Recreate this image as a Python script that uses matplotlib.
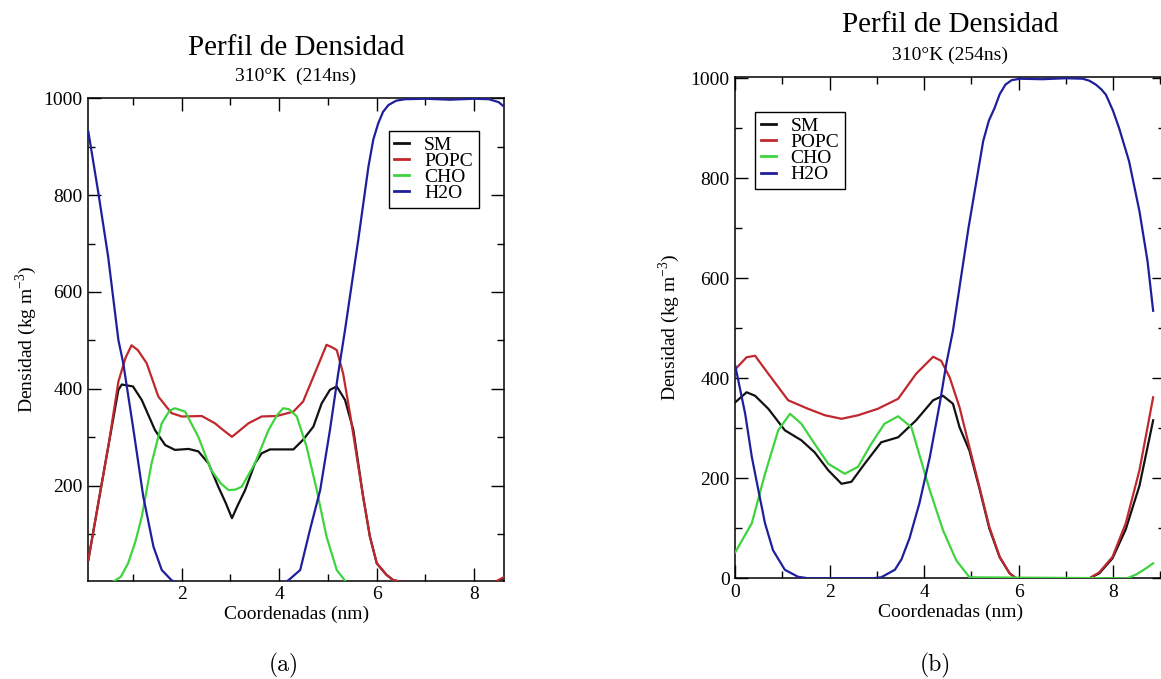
import matplotlib
matplotlib.use("Agg")
import matplotlib.pyplot as plt
from matplotlib.ticker import MultipleLocator

plt.rcParams['font.family'] = ['Liberation Serif', 'DejaVu Serif']
plt.rcParams['mathtext.fontset'] = 'custom'
plt.rcParams['mathtext.rm'] = 'Liberation Serif'

# colores de cada componente
colores = {'SM': '#111111', 'POPC': '#c0282e', 'CHO': '#3fd43f', 'H2O': '#1f1f9c'}

# ---- (a) 310 K, 214 ns ----
sm_a_x = [0.084, 0.3, 0.5, 0.7, 0.77, 1.0, 1.18, 1.45, 1.66, 1.86, 2.14, 2.34, 2.55, 2.75, 2.9, 3.03,
          3.15, 3.30, 3.50, 3.64, 3.81, 4.29, 4.49, 4.70, 4.87, 5.04, 5.18, 5.35, 5.52, 5.72, 5.86,
          6.0, 6.2, 6.34, 6.6, 8.4, 8.62]
sm_a_y = [47, 171, 285, 398, 409, 405, 377, 315, 284, 274, 276, 271, 246, 198, 165, 133,
          160, 191, 246, 267, 275, 275, 295, 322, 370, 398, 405, 377, 315, 178, 95,
          40, 16, 5, 0, 0, 10]

popc_a_x = [0.084, 0.3, 0.5, 0.7, 0.85, 0.97, 1.1, 1.28, 1.52, 1.79, 2.0, 2.41, 2.68, 2.85, 3.03,
            3.2, 3.37, 3.64, 3.95, 4.29, 4.49, 4.70, 4.97, 5.1, 5.18, 5.31, 5.45, 5.59, 5.72,
            5.86, 6.0, 6.2, 6.34, 6.6, 8.4, 8.62]
popc_a_y = [47, 171, 285, 415, 465, 490, 480, 453, 384, 350, 343, 344, 329, 315, 301,
            315, 329, 343, 344, 353, 374, 425, 491, 485, 480, 432, 350, 260, 178,
            95, 40, 16, 5, 0, 0, 12]

cho_a_x = [0.56, 0.75, 0.90, 1.05, 1.18, 1.38, 1.59, 1.75, 1.86, 2.07, 2.34, 2.60, 2.80, 2.96,
           3.1, 3.23, 3.50, 3.78, 3.95, 4.08, 4.2, 4.36, 4.56, 4.77, 4.97, 5.18, 5.38]
cho_a_y = [0, 12, 40, 85, 136, 246, 329, 355, 360, 353, 301, 233, 205, 191,
           192, 198, 246, 315, 345, 360, 358, 343, 281, 191, 95, 26, 0]

h2o_a_x = [0.084, 0.29, 0.49, 0.70, 0.80, 1.01, 1.21, 1.42, 1.59, 1.79, 1.9, 4.1, 4.19, 4.43,
           4.63, 4.84, 5.04, 5.21, 5.35, 5.62, 5.83, 5.93, 6.03, 6.13, 6.24, 6.4, 6.58, 7.0,
           7.5, 8.0, 8.3, 8.5, 8.62]
h2o_a_y = [931, 804, 673, 501, 453, 315, 178, 74, 26, 5, 0, 0, 5, 26,
           109, 191, 315, 432, 522, 707, 859, 915, 948, 972, 986, 995, 998, 999,
           997, 999, 998, 992, 982]

# ---- (b) 310 K, 254 ns ----
sm_b_x = [0.0, 0.24, 0.42, 0.70, 1.05, 1.40, 1.68, 1.97, 2.25, 2.46, 2.74, 3.09, 3.45, 3.83,
          4.19, 4.40, 4.61, 4.75, 4.96, 5.17, 5.38, 5.60, 5.81, 5.95, 7.50, 7.71, 7.99, 8.27,
          8.56, 8.85]
sm_b_y = [352, 372, 365, 339, 296, 276, 252, 216, 189, 193, 229, 272, 282, 316,
          356, 365, 349, 302, 255, 180, 100, 42, 10, 0, 0, 10, 40, 98,
          185, 316]

popc_b_x = [0.0, 0.24, 0.42, 0.70, 1.12, 1.54, 1.90, 2.25, 2.60, 3.02, 3.45, 3.83, 4.19, 4.36,
            4.54, 4.75, 4.96, 5.17, 5.38, 5.60, 5.81, 5.95, 7.50, 7.71, 7.99, 8.27, 8.56, 8.85]
popc_b_y = [418, 442, 445, 409, 356, 339, 326, 319, 326, 339, 359, 409, 443, 435,
            402, 342, 262, 183, 103, 43, 10, 0, 0, 12, 43, 110, 216, 362]

cho_b_x = [0.0, 0.35, 0.63, 0.91, 1.16, 1.40, 1.68, 1.97, 2.32, 2.60, 2.88, 3.16, 3.45, 3.73,
           4.12, 4.40, 4.68, 4.96, 8.30, 8.50, 8.70, 8.85]
cho_b_y = [52, 110, 209, 296, 329, 309, 269, 229, 209, 223, 269, 309, 324, 302,
           176, 96, 36, 2, 0, 8, 20, 30]

h2o_b_x = [0.0, 0.21, 0.35, 0.49, 0.63, 0.80, 1.05, 1.33, 1.55, 2.90, 3.09, 3.38, 3.52, 3.69,
           3.90, 4.12, 4.33, 4.47, 4.61, 4.94, 5.25, 5.37, 5.49, 5.60, 5.72, 5.85, 6.03, 6.5,
           7.0, 7.36, 7.50, 7.64, 7.75, 7.85, 8.0, 8.13, 8.34, 8.56, 8.73, 8.85]
h2o_b_y = [425, 329, 243, 176, 110, 56, 17, 3, 0, 0, 2, 17, 38, 80,
           150, 242, 349, 429, 495, 701, 874, 915, 940, 968, 987, 996, 999, 998,
           1000, 999, 995, 987, 978, 967, 935, 900, 834, 734, 635, 535]

paneles = [
    {'pos': [0.0761, 0.1448, 0.3584, 0.7105], 'xlim': (0.084, 8.62), 'ylim': (4, 1000),
     'series': [(sm_a_x, sm_a_y), (popc_a_x, popc_a_y), (cho_a_x, cho_a_y), (h2o_a_x, h2o_a_y)],
     'legend': dict(loc='upper right', bbox_to_anchor=(0.9378, 0.9328)),
     'ylabel_x': -0.118},
    {'pos': [0.6333, 0.1483, 0.3701, 0.7387], 'xlim': (0, 9.1), 'ylim': (0, 1003),
     'series': [(sm_b_x, sm_b_y), (popc_b_x, popc_b_y), (cho_b_x, cho_b_y), (h2o_b_x, h2o_b_y)],
     'legend': dict(loc='upper left', bbox_to_anchor=(0.0463, 0.9302)),
     'ylabel_x': -0.125},
]
nombres = ['SM', 'POPC', 'CHO', 'H2O']

fig = plt.figure(figsize=(11.61, 6.79), dpi=100)

for p in paneles:
    ax = fig.add_axes(p['pos'])
    for nombre, (xs, ys) in zip(nombres, p['series']):
        ax.plot(xs, ys, color=colores[nombre], lw=1.6, label=nombre, zorder=3,
                solid_joinstyle='round')
    ax.set_xlim(*p['xlim'])
    ax.set_ylim(*p['ylim'])
    ax.xaxis.set_major_locator(MultipleLocator(2))
    ax.xaxis.set_minor_locator(MultipleLocator(1))
    ax.yaxis.set_major_locator(MultipleLocator(200))
    ax.yaxis.set_minor_locator(MultipleLocator(100))
    ax.tick_params(which='both', direction='in', top=True, right=True, width=1.0,
                   labelsize=14, pad=4)
    ax.tick_params(which='major', length=9.5)
    ax.tick_params(which='minor', length=5)
    for s in ax.spines.values():
        s.set_linewidth(1.1)
    ax.set_xlabel('Coordenadas (nm)', fontsize=14, labelpad=2)
    ax.set_ylabel(r'Densidad (kg m$^{\mathrm{-3}}$)', fontsize=14)
    ax.yaxis.set_label_coords(p['ylabel_x'], 0.5)
    leg = ax.legend(fontsize=14, frameon=True, fancybox=False, framealpha=1,
                    edgecolor='black', borderaxespad=0, borderpad=0.3,
                    labelspacing=-0.08, handlelength=0.77, handletextpad=0.75,
                    **p['legend'])
    leg.get_frame().set_linewidth(1.0)
    for h in leg.legend_handles:
        h.set_linewidth(2)

# títulos
fig.text(0.2550, 0.919, 'Perfil de Densidad', ha='center', va='baseline', fontsize=21)
fig.text(0.2550, 0.8807, '310°K  (214ns)', ha='center', va='baseline', fontsize=14)
fig.text(0.8186, 0.9524, 'Perfil de Densidad', ha='center', va='baseline', fontsize=21)
fig.text(0.8186, 0.9116, '310°K (254ns)', ha='center', va='baseline', fontsize=14)

# etiquetas de subfigura
fig.text(0.2446, 0.0206, '(a)', ha='center', va='center', fontsize=17, family='cmr10')
fig.text(0.8053, 0.0206, '(b)', ha='center', va='center', fontsize=17, family='cmr10')

fig.savefig('out.png', dpi=100, facecolor='white')
